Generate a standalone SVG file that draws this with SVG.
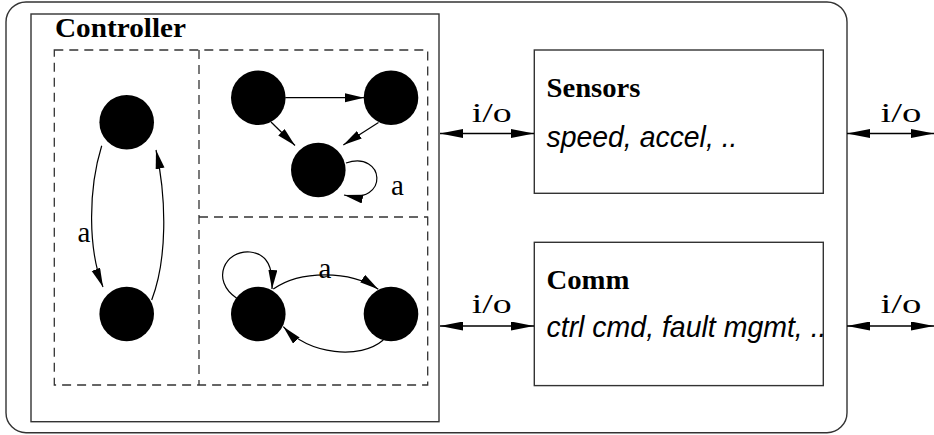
<svg xmlns="http://www.w3.org/2000/svg" width="934" height="435" viewBox="0 0 934 435">
<defs>
<style>
.frame{fill:none;stroke:#333;stroke-width:1.4}
.dash{fill:none;stroke:#333;stroke-width:1.3;stroke-dasharray:9 6}
.st{fill:#000}
.e{fill:none;stroke:#000;stroke-width:1.2}
.io{fill:none;stroke:#000;stroke-width:1.3;marker-start:url(#ioS);marker-end:url(#ioE)}
.arr{marker-end:url(#ah)}
.lbl{font-family:"Liberation Serif",serif;font-size:29px;fill:#000}
.iol{font-family:"Liberation Serif",serif;font-size:27px;fill:#000}
.ttl{font-family:"Liberation Serif",serif;font-size:28px;font-weight:bold;fill:#000}
.it{font-family:"Liberation Sans",sans-serif;font-size:30px;font-style:italic;fill:#000}
</style>
<marker id="ah" markerUnits="userSpaceOnUse" markerWidth="20" markerHeight="10" refX="19" refY="4.5" orient="auto"><path d="M0,0 L19,4.5 L0,9 Z" fill="#000"/></marker>
<marker id="ioE" markerUnits="userSpaceOnUse" markerWidth="24" markerHeight="10" refX="23" refY="4.5" orient="auto"><path d="M0,0 L23,4.5 L0,9 Z" fill="#000"/></marker>
<marker id="ioS" markerUnits="userSpaceOnUse" markerWidth="24" markerHeight="10" refX="0" refY="4.5" orient="auto"><path d="M23,0 L0,4.5 L23,9 Z" fill="#000"/></marker>
</defs>
<g id="system"><rect class="frame" x="6" y="2" width="841" height="430.7" rx="20" ry="20"/></g>
<g id="controller">
<rect class="frame" x="31" y="14" width="408" height="407.7"/>
<text class="ttl" x="55" y="36.5" textLength="131" lengthAdjust="spacingAndGlyphs">Controller</text>
<rect class="dash" x="54.3" y="50" width="373.4" height="335"/>
<line class="dash" x1="199" y1="50" x2="199" y2="385"/>
<line class="dash" x1="199" y1="217" x2="427.7" y2="217"/>
</g>
<g id="states">
<circle id="s1" class="st" cx="126.7" cy="122.3" r="27.3"/>
<circle id="s2" class="st" cx="126.7" cy="314" r="27.3"/>
<circle id="s3" class="st" cx="258.3" cy="97.7" r="27.3"/>
<circle id="s4" class="st" cx="391" cy="97.7" r="27.3"/>
<circle id="s5" class="st" cx="318.3" cy="170" r="27.3"/>
<circle id="s6" class="st" cx="258.3" cy="314" r="27.3"/>
<circle id="s7" class="st" cx="391" cy="314" r="27.3"/>
</g>
<g id="sensors">
<rect class="frame" x="534.3" y="50" width="289" height="143.3"/>
<text class="ttl" x="546.5" y="96.7" textLength="94" lengthAdjust="spacingAndGlyphs">Sensors</text>
<text class="it" x="546.5" y="147" textLength="191" lengthAdjust="spacingAndGlyphs">speed, accel, ..</text>
</g>
<g id="comm">
<rect class="frame" x="534.3" y="242.3" width="289" height="143.3"/>
<text class="ttl" x="546.5" y="288.5" textLength="83" lengthAdjust="spacingAndGlyphs">Comm</text>
<text class="it" x="546.5" y="337" textLength="280" lengthAdjust="spacingAndGlyphs">ctrl cmd, fault mgmt, ..</text>
</g>
<g id="connectors">
<path class="e arr" d="M101.7,145.7 C88,190 88,250 103,287"/>
<path class="e arr" d="M151.7,300 C167,260 167,200 156,150"/>
<path class="e arr" d="M285.3,97.7 L364,97.7"/>
<path class="e arr" d="M271,122 L295,145.5"/>
<path class="e arr" d="M378.5,122.5 L343.3,145"/>
<path class="e arr" d="M346,163 C385,150 390,205 344,195"/>
<path class="e arr" d="M236.7,298.3 C210,280 225,250 250,252 C268,254 273,268 272,289"/>
<path class="e arr" d="M273.3,289 C300,270 350,270 378.3,289.3"/>
<path class="e arr" d="M383.3,340 C360,360 310,355 283.3,326.7"/>
<text class="lbl" x="84" y="242" text-anchor="middle">a</text>
<text class="lbl" x="397.5" y="195" text-anchor="middle">a</text>
<text class="lbl" x="325" y="278" text-anchor="middle">a</text>
<line class="io" x1="440" y1="133.5" x2="534" y2="133.5"/>
<line class="io" x1="847" y1="133.5" x2="934" y2="133.5"/>
<line class="io" x1="440" y1="326" x2="534" y2="326"/>
<line class="io" x1="847" y1="326" x2="934" y2="326"/>
<text class="iol" x="491.7" y="121.7" text-anchor="middle" textLength="40" lengthAdjust="spacingAndGlyphs">i/o</text>
<text class="iol" x="901" y="121.7" text-anchor="middle" textLength="41" lengthAdjust="spacingAndGlyphs">i/o</text>
<text class="iol" x="491.7" y="313.3" text-anchor="middle" textLength="40" lengthAdjust="spacingAndGlyphs">i/o</text>
<text class="iol" x="901" y="313.3" text-anchor="middle" textLength="41" lengthAdjust="spacingAndGlyphs">i/o</text>
</g>
</svg>
